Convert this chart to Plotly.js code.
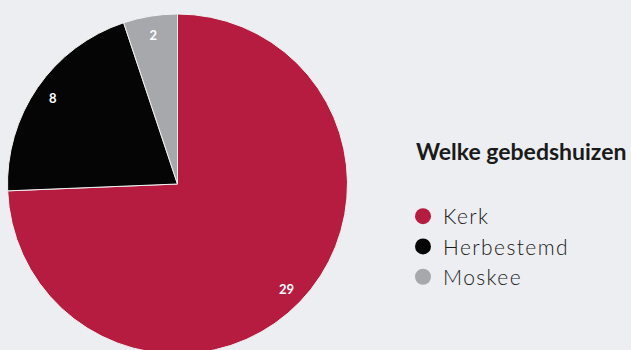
<!DOCTYPE html>
<html>
<head>
<meta charset="utf-8">
<script src="https://cdn.plot.ly/plotly-3.0.1.min.js"></script>
<style>
  html, body { margin: 0; padding: 0; background: #eceef1; overflow: hidden; width: 631px; height: 350px; }
  #chart { width: 631px; height: 368px; }
  .legendtext { letter-spacing: 1.4px; }
</style>
</head>
<body>
<div id="chart"></div>
<script>
const categories = ["Kerk", "Herbestemd", "Moskee"];
const values = [29, 8, 2];
const colors = ["#b61b40", "#050505", "#a6a8ab"];
const legendTitle = "Welke gebedshuizen";

const W = 631, H = 368;
const pieDomain = { x: [7.5 / W, 347.5 / W], y: [(H - 354) / H, (H - 14) / H] };

// filled slices
const pie = {
  type: "pie",
  labels: categories,
  values: values,
  sort: false,
  direction: "clockwise",
  rotation: 0,
  marker: { colors: colors, line: { color: "#f2f2f2", width: 1 } },
  textinfo: "none",
  hoverinfo: "label+value",
  showlegend: false,
  domain: pieDomain
};

// transparent ring carrying the value labels near the rim
const labelRing = {
  type: "pie",
  labels: categories,
  values: values,
  sort: false,
  direction: "clockwise",
  rotation: 0,
  hole: 0.78,
  marker: { colors: categories.map(() => "rgba(0,0,0,0)"), line: { width: 0 } },
  texttemplate: "%{value}",
  textposition: "inside",
  insidetextorientation: "horizontal",
  textfont: { family: "Lato, 'Open Sans', sans-serif", size: 13, color: "#ffffff", weight: 700 },
  hoverinfo: "skip",
  showlegend: false,
  domain: pieDomain
};

const legendTraces = categories.map((c, i) => ({
  type: "scatter",
  mode: "markers",
  x: [null], y: [null],
  name: c,
  legendgroup: "g" + i,
  marker: { color: colors[i], size: 16, symbol: "circle" },
  showlegend: true,
  hoverinfo: "skip"
}));

const layout = {
  width: W, height: H,
  margin: { l: 0, r: 0, t: 0, b: 0 },
  paper_bgcolor: "#eceef1",
  plot_bgcolor: "#eceef1",
  xaxis: { visible: false, fixedrange: true },
  yaxis: { visible: false, fixedrange: true },
  showlegend: true,
  legend: {
    x: 403 / W, xanchor: "left",
    y: 1 - 196 / H, yanchor: "top",
    bgcolor: "rgba(0,0,0,0)",
    font: { family: "Lato, 'Open Sans', sans-serif", size: 21, color: "#1a1a1a", weight: 300 },
    tracegroupgap: 0,
    itemsizing: "trace"
  },
  annotations: [{
    text: "<b>" + legendTitle + "</b>",
    xref: "paper", yref: "paper",
    x: 414 / W, xanchor: "left",
    y: 1 - 167 / H, yanchor: "bottom",
    showarrow: false,
    font: { family: "Lato, 'Open Sans', sans-serif", size: 23, color: "#1a1a1a" }
  }]
};

Plotly.newPlot("chart", [pie, labelRing].concat(legendTraces), layout, { displayModeBar: false, staticPlot: true });
</script>
</body>
</html>
